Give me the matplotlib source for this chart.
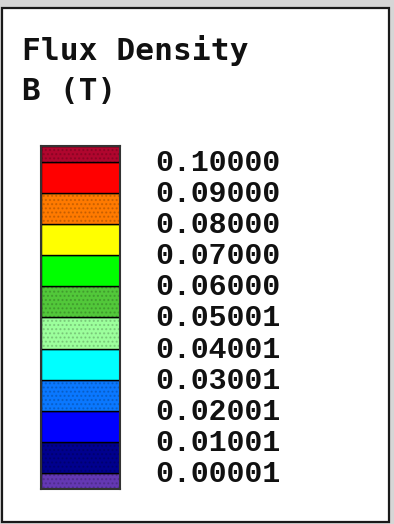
import matplotlib
matplotlib.use("Agg")
import matplotlib.pyplot as plt
from matplotlib.patches import Rectangle
from matplotlib.transforms import offset_copy

# Legend content
title_lines = ["Flux Density", "B (T)"]
levels = [0.00001, 0.01001, 0.02001, 0.03001, 0.04001, 0.05001,
          0.06000, 0.07000, 0.08000, 0.09000, 0.10000]
# band colours from the lowest band (below 0.00001) to the highest (above 0.1)
band_colors = ["#6438B4", "#00008E", "#0000FF", "#0A78FF", "#00FFFF", "#9CFF9C",
               "#52C83A", "#00FF00", "#FFFF00", "#FF7A00", "#FF0000", "#B0062E"]
band_dither = [True, True, False, True, False, True,
               True, False, False, True, False, True]

W, H = 394, 524
fig = plt.figure(figsize=(W / 100, H / 100), dpi=100)
fig.patch.set_facecolor("#d6d6d6")


def fx(px):
    return px / W


def fy(py):
    return 1 - py / H


# white legend panel with dark frame, kept behind the colour bar
fig.add_artist(Rectangle((fx(2), fy(522)), fx(389) - fx(2), fy(8) - fy(522),
                         transform=fig.transFigure, facecolor="white",
                         edgecolor="#1a1a1a", linewidth=1.6, zorder=-5))

# title
for i, line in enumerate(title_lines):
    fig.text(fx(22), fy(60 + 40 * i), line, family="DejaVu Sans Mono",
             weight="bold", fontsize=22.5, va="baseline", ha="left", color="#111111")

# colour bar
ax = fig.add_axes([fx(41), fy(489), fx(120) - fx(41), fy(146) - fy(489)])
ax.set_zorder(2)
step = levels[1] - levels[0]
edges = [levels[0] - step / 2] + levels + [levels[-1] + step / 2]
for lo, hi, c, d in zip(edges[:-1], edges[1:], band_colors, band_dither):
    ax.bar(0.5, hi - lo, bottom=lo, width=1.0, color=c, edgecolor="black", linewidth=1.0)
    if d:
        ax.bar(0.5, hi - lo, bottom=lo, width=1.0, color="none",
               edgecolor=(0, 0, 0, 0.18), hatch="....", linewidth=0)
ax.set_xlim(0, 1)
ax.set_ylim(edges[0], edges[-1])
ax.set_xticks([])
ax.set_yticks([])
for sp in ax.spines.values():
    sp.set_linewidth(1.5)
    sp.set_color("#333333")

# level labels to the right of the bar, one at each band boundary
label_tf = offset_copy(ax.get_yaxis_transform(), fig=fig, x=35, y=2, units="dots")
for v in levels:
    ax.text(1, v, f"{v:.5f}", transform=label_tf, family="Liberation Mono",
            weight="bold", fontsize=21.5, color="#111111",
            ha="left", va="center_baseline", clip_on=False)

fig.savefig("out.png", dpi=100, facecolor=fig.get_facecolor())
